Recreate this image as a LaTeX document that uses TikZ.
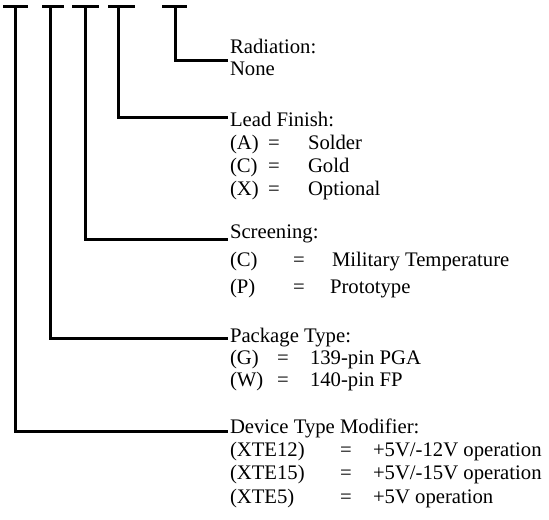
\documentclass[tikz,border=0pt]{standalone}
\usepackage{fontspec}
\setmainfont{Liberation Serif}
\begin{document}
\begin{tikzpicture}[x=1bp,y=-1bp,
  wire/.style={line width=3bp,draw=black},
  txt/.style={anchor=base west,inner sep=0pt,outer sep=0pt,font=\fontsize{20.7bp}{23bp}\selectfont}]
\useasboundingbox (0,0) rectangle (549,520);
% T-bars
\coordinate (b1l) at (3,6.5);   \coordinate (b1r) at (28,6.5);  \coordinate (v1) at (15,6.5);
\coordinate (b2l) at (42,6.5);  \coordinate (b2r) at (64,6.5);  \coordinate (v2) at (50,6.5);
\coordinate (b3l) at (72,6.5);  \coordinate (b3r) at (99,6.5);  \coordinate (v3) at (85,6.5);
\coordinate (b4l) at (108,6.5); \coordinate (b4r) at (135,6.5); \coordinate (v4) at (118,6.5);
\coordinate (b5l) at (162,6.5); \coordinate (b5r) at (187,6.5); \coordinate (v5) at (175,6.5);
% line ends
\coordinate (e5) at (228,61);
\coordinate (e4) at (228,118);
\coordinate (e3) at (228,239);
\coordinate (e2) at (228,338);
\coordinate (e1) at (228,431);
\foreach \i in {1,...,5}{
  \draw[wire] (b\i l) -- (b\i r);
  \draw[wire] (v\i) |- (e\i);
}
% Radiation
\node[txt] (radh) at (230,54) {Radiation:};
\node[txt] (radn) at (230,76) {None};
% Lead finish
\node[txt] (leadh) at (230,127) {Lead Finish:};
\node[txt] (leadAk) at (230,150) {(A)};
\node[txt] (leadAe) at (268,150) {=};
\node[txt] (leadAv) at (308,150) {Solder};
\node[txt] (leadCk) at (230,173) {(C)};
\node[txt] (leadCe) at (268,173) {=};
\node[txt] (leadCv) at (308,173) {Gold};
\node[txt] (leadXk) at (230,196) {(X)};
\node[txt] (leadXe) at (268,196) {=};
\node[txt] (leadXv) at (308,196) {Optional};
% Screening
\node[txt] (scrh) at (230,238) {Screening:};
\node[txt] (scrCk) at (230,266) {(C)};
\node[txt] (scrCe) at (293,266) {=};
\node[txt] (scrCv) at (332,266) {Military Temperature};
\node[txt] (scrPk) at (230,293) {(P)};
\node[txt] (scrPe) at (293,293) {=};
\node[txt] (scrPv) at (330,293) {Prototype};
% Package
\node[txt] (pkgh) at (230,342) {Package Type:};
\node[txt] (pkgGk) at (230,364) {(G)};
\node[txt] (pkgGe) at (277,364) {=};
\node[txt] (pkgGv) at (310,364) {139-pin PGA};
\node[txt] (pkgWk) at (230,386) {(W)};
\node[txt] (pkgWe) at (277,386) {=};
\node[txt] (pkgWv) at (310,386) {140-pin FP};
% Device
\node[txt] (devh) at (230,433) {Device Type Modifier:};
\node[txt] (dev1k) at (230,456) {(XTE12)};
\node[txt] (dev1e) at (340,456) {=};
\node[txt] (dev1v) at (373,456) {+5V/-12V operation};
\node[txt] (dev2k) at (230,479) {(XTE15)};
\node[txt] (dev2e) at (340,479) {=};
\node[txt] (dev2v) at (373,479) {+5V/-15V operation};
\node[txt] (dev3k) at (230,503) {(XTE5)};
\node[txt] (dev3e) at (340,503) {=};
\node[txt] (dev3v) at (373,503) {+5V operation};
\end{tikzpicture}
\end{document}
